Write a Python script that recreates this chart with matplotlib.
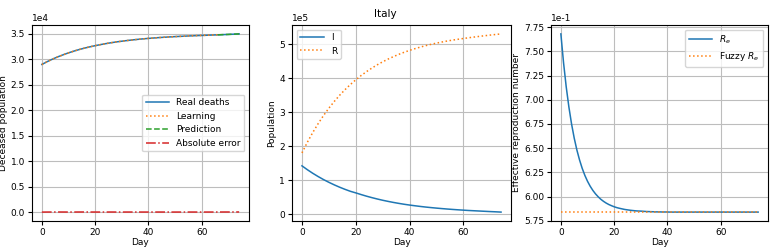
import numpy as np
import matplotlib
matplotlib.use('Agg')
import matplotlib.pyplot as plt

plt.rcParams['font.size'] = 6.5
plt.rcParams['axes.unicode_minus'] = False

# days sampled every 2 days
days = np.arange(0, 76, 2)
deaths = [29000, 29550, 30050, 30500, 30900, 31280, 31620, 31930, 32210, 32460,
          32690, 32900, 33090, 33270, 33430, 33570, 33700, 33820, 33930, 34030,
          34120, 34200, 34280, 34350, 34410, 34470, 34520, 34570, 34620, 34660,
          34700, 34740, 34780, 34820, 34860, 34900, 34950, 35000]
split = 33   # index where prediction starts (day 66)
abs_error = [0, 10, 15, 20, 15, 10, 12, 18, 20, 14, 10, 8, 12, 15, 10, 9,
             11, 13, 10, 8, 9, 10, 12, 10, 8, 7, 9, 10, 11, 9, 8, 10, 12, 15,
             18, 20, 22, 25]

inf = [142000, 130700, 120200, 110600, 101700, 93600, 86100, 79200, 72900, 67100,
       62500, 57500, 52800, 48500, 44500, 40800, 37500, 34400, 31600, 29000,
       26700, 24600, 22600, 20800, 19200, 17700, 16300, 15000, 13800, 12700,
       11700, 10700, 9900, 9100, 8300, 7500, 6800, 6000]
rec = [180000, 211300, 239800, 265900, 289800, 311500, 331300, 349500, 366000, 381200,
       394900, 407600, 419100, 429600, 439200, 447900, 455900, 463200, 469900, 476000,
       481600, 486600, 491300, 495500, 499400, 502900, 506100, 509100, 511800, 514200,
       516500, 518700, 520800, 522800, 524700, 526600, 528300, 530000]

# effective reproduction number, daily
days_re = np.arange(0, 75)
re = [0.7680, 0.7384, 0.7135, 0.6927, 0.6752, 0.6605, 0.6482, 0.6379, 0.6292, 0.6219,
      0.6158, 0.6107, 0.6064, 0.6028, 0.5998, 0.5972, 0.5951, 0.5933, 0.5918, 0.5906,
      0.5895, 0.5886, 0.5879, 0.5873, 0.5867, 0.5863, 0.5859, 0.5856, 0.5853, 0.5851,
      0.5850, 0.5848, 0.5846, 0.5845, 0.5844, 0.5843, 0.5842, 0.5842, 0.5841, 0.5841,
      0.5841, 0.5840, 0.5840, 0.5840, 0.5840, 0.5840, 0.5840, 0.5840, 0.5840, 0.5840,
      0.5840, 0.5840, 0.5840, 0.5840, 0.5840, 0.5840, 0.5840, 0.5840, 0.5840, 0.5840,
      0.5840, 0.5840, 0.5840, 0.5840, 0.5840, 0.5840, 0.5840, 0.5840, 0.5840, 0.5840,
      0.5840, 0.5840, 0.5840, 0.5840, 0.5840]
fuzzy_re = 0.5840

lw = 1.1
fig = plt.figure(figsize=(7.7, 2.48), dpi=100)
ax1 = fig.add_axes([32/770, 27/248, 217/770, 196/248])
ax2 = fig.add_axes([292/770, 27/248, 219/770, 196/248])
ax3 = fig.add_axes([551/770, 27/248, 217/770, 196/248])

ax1.plot(days, deaths, color='C0', lw=lw, label='Real deaths')
ax1.plot(days[:split + 1], deaths[:split + 1], ':', color='C1', lw=lw, label='Learning')
ax1.plot(days[split:], deaths[split:], '--', color='C2', lw=lw, label='Prediction')
ax1.plot(days, abs_error, '-.', color='C3', lw=lw, label='Absolute error')
ax1.set_ylabel('Deceased population')
ax1.legend(loc='center right', handlelength=2.6)

ax2.plot(days, inf, color='C0', lw=lw, label='I')
ax2.plot(days, rec, ':', color='C1', lw=lw, label='R')
ax2.set_ylabel('Population')
ax2.legend(loc='upper left', handlelength=2.6)

ax3.plot(days_re, re, color='C0', lw=lw, label='$R_e$')
ax3.plot(days_re, [fuzzy_re] * len(days_re), ':', color='C1', lw=lw, label='Fuzzy $R_e$')
ax3.set_ylabel('Effective reproduction number')
ax3.legend(loc='upper right', handlelength=2.6)

for ax in (ax1, ax2, ax3):
    ax.set_xlabel('Day', labelpad=1)
    ax.grid(True, color='#bdbdbd', lw=0.8)
    ax.set_xticks([0, 20, 40, 60])
    ax.ticklabel_format(axis='y', style='sci', scilimits=(0, 0))
    ax.tick_params(length=3, pad=2)
    ax.yaxis.labelpad = 2

ax3.set_yticks([0.575, 0.600, 0.625, 0.650, 0.675, 0.700, 0.725, 0.750, 0.775])

fig.suptitle('Italy', x=0.5, y=0.965, fontsize=7.5)
fig.savefig('out.png')
